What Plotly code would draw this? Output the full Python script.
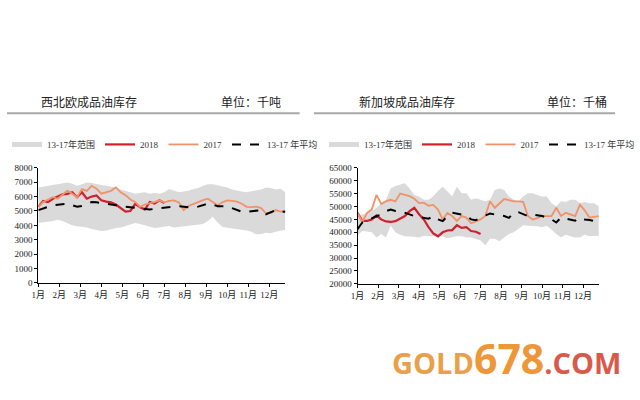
import plotly.graph_objects as go

months = ["1月", "2月", "3月", "4月", "5月", "6月", "7月", "8月", "9月", "10月", "11月", "12月"]
weeks = list(range(52))
month_pos = [i * 52 / 12 for i in range(12)]

# 西北欧 (千吨)
nwe_hi = [6640, 6700, 6750, 6800, 6860, 6900, 6975, 6900, 6750, 6850, 6975, 6950, 6860, 6800, 6750, 6700,
          6640, 6500, 6400, 6300, 6190, 6250, 6300, 6190, 6250, 6190, 6300, 6525, 6400, 6300, 6350, 6400,
          6525, 6600, 6750, 6860, 6860, 6800, 6700, 6640, 6500, 6410, 6350, 6300, 6350, 6410, 6500, 6640,
          6600, 6500, 6550, 6300]
nwe_lo = [4160, 4200, 4250, 4300, 4390, 4300, 4150, 4000, 3940, 3900, 3850, 3750, 3650, 3600, 3650, 3750,
          3820, 3850, 3950, 4050, 4160, 4100, 4000, 3900, 3820, 3850, 3900, 3950, 3850, 3900, 3940, 3950,
          4050, 4050, 4100, 4300, 4600, 4200, 3900, 3825, 3800, 3750, 3700, 3650, 3550, 3375, 3400, 3490,
          3450, 3550, 3650, 3700]
nwe_2018 = [5290, 5700, 5620, 5850, 6000, 6150, 6190, 6300, 5960, 6300, 5850, 6000, 6075, 5740, 5650, 5600,
            5450, 5200, 4950, 5000, 5500, 5250, 5100, 5625, 5510, 5740, 5560]
nwe_2017 = [5290, 5620, 5800, 5960, 5850, 6100, 6410, 6200, 5960, 6525, 6400, 6750, 6550, 6200, 6300, 6400,
            6640, 6300, 6100, 5800, 5625, 5290, 5450, 5510, 5620, 5740, 5600, 5700, 5740, 5600, 5060, 5350,
            5500, 5625, 5750, 5850, 5600, 5400, 5600, 5740, 5700, 5650, 5500, 5290, 5270, 5300, 5200, 4840,
            4850, 5060, 4950, 5000]
nwe_avg = [5060, 5200, 5290, 5400, 5445, 5480, 5510, 5400, 5290, 5350, 5500, 5625, 5600, 5560, 5500, 5450,
           5400, 5330, 5290, 5220, 5175, 5150, 5100, 5100, 5150, 5175, 5200, 5250, 5300, 5330, 5300, 5250,
           5220, 5300, 5400, 5510, 5450, 5330, 5330, 5330, 5200, 5100, 4950, 4950, 5000, 5060, 5060, 4770,
           4900, 5060, 4950, 4950]

# 新加坡 (千桶)
sg_hi = [46300, 47000, 47600, 48200, 49500, 51300, 52600, 57000, 58000, 58500, 59000, 57000, 54500, 53900,
         52600, 52600, 54000, 56000, 57700, 55800, 54000, 57700, 55100, 55100, 52600, 53200, 52600, 52000,
         52600, 56400, 57000, 56400, 53900, 52600, 52000, 53900, 55100, 55100, 54500, 53900, 53900, 51300,
         50100, 52000, 51700, 52600, 52600, 51300, 51700, 51300, 51300, 50100]
sg_lo = [38700, 40600, 40300, 40000, 38000, 39300, 38000, 42500, 40000, 39000, 38500, 38500, 38300, 38000,
         38700, 38500, 38500, 38500, 38500, 37700, 38000, 38500, 38500, 38000, 38000, 37500, 36800, 35000,
         37500, 37500, 36500, 38000, 39300, 40000, 41200, 42750, 42500, 42500, 42300, 42000, 42500, 41000,
         39300, 38000, 39000, 38500, 38000, 38000, 39000, 38500, 38700, 38700]
sg_2018 = [47560, 44400, 44400, 45000, 46500, 45000, 44200, 44000, 44300, 45300, 46300, 48200, 49500, 47000,
           45000, 42000, 39600, 38450, 40000, 40700, 40850, 42750, 41700, 42000, 40500, 40200, 39300]
sg_2017 = [47500, 44000, 47500, 48800, 54500, 51000, 52000, 52600, 52000, 55000, 54500, 54000, 53000, 51300,
           51500, 50300, 50600, 48800, 45000, 47500, 46300, 44400, 46300, 45700, 43500, 44400, 45000, 46300,
           52000, 49500, 51300, 52900, 52500, 52000, 52000, 51800, 46300, 45000, 45500, 46300, 46300, 46300,
           49500, 46300, 47560, 47000, 46300, 50700, 48500, 45700, 46000, 46300]
sg_avg = [41200, 43800, 44400, 45300, 46300, 46800, 48200, 48800, 48300, 48200, 47500, 46900, 46300, 45900,
          45700, 45300, 46300, 45000, 44300, 46300, 47560, 47300, 46900, 46500, 45000, 44700, 45700, 46500,
          47300, 46900, 46500, 46300, 45600, 47560, 47800, 47100, 46300, 46900, 46600, 46300, 45700, 45000,
          43800, 45700, 45300, 45000, 44500, 45700, 45000, 44800, 44400, 44000]

BAND = "#DADADA"
RED = "#D0202E"
ORANGE = "#F0926A"
FONT = "Liberation Serif, Noto Sans CJK SC"

fig = go.Figure()


def add_panel(hi, lo, s18, s17, avg, xa, ya, legend):
    fig.add_trace(go.Scatter(x=weeks, y=hi, mode="lines", line=dict(width=0, color=BAND),
                             showlegend=False, hoverinfo="skip", xaxis=xa, yaxis=ya))
    fig.add_trace(go.Scatter(x=weeks, y=lo, mode="lines", line=dict(width=0, color=BAND),
                             fill="tonexty", fillcolor=BAND, showlegend=False, hoverinfo="skip",
                             xaxis=xa, yaxis=ya))
    fig.add_trace(go.Scatter(x=[None], y=[None], mode="lines", line=dict(width=5, color=BAND),
                             name="13-17年范围", legend=legend, xaxis=xa, yaxis=ya))
    fig.add_trace(go.Scatter(x=weeks[:len(s18)], y=s18, mode="lines", line=dict(width=2.2, color=RED),
                             name="2018", legend=legend, xaxis=xa, yaxis=ya))
    fig.add_trace(go.Scatter(x=weeks, y=s17, mode="lines", line=dict(width=1.8, color=ORANGE),
                             name="2017", legend=legend, xaxis=xa, yaxis=ya))
    fig.add_trace(go.Scatter(x=weeks, y=avg, mode="lines", line=dict(width=2, color="black", dash="dash"),
                             name="13-17 年平均", legend=legend, xaxis=xa, yaxis=ya))


add_panel(nwe_hi, nwe_lo, nwe_2018, nwe_2017, nwe_avg, "x", "y", "legend")
add_panel(sg_hi, sg_lo, sg_2018, sg_2017, sg_avg, "x2", "y2", "legend2")

xcommon = dict(range=[0, 51], tickvals=month_pos, ticktext=months, showgrid=False, zeroline=False,
               showline=True, linecolor="black", linewidth=1, ticks="outside", ticklen=3,
               tickcolor="black", tickfont=dict(size=9, family=FONT, color="#222"))
ycommon = dict(showgrid=False, zeroline=False, showline=True, linecolor="black", linewidth=1,
               ticks="outside", ticklen=3, tickcolor="black", tickformat="d",
               tickfont=dict(size=9, family=FONT, color="#222"))

legend_common = dict(orientation="h", font=dict(size=9, family=FONT, color="#333"),
                     bgcolor="rgba(0,0,0,0)", xanchor="left", yanchor="middle",
                     itemwidth=30, tracegroupgap=0, traceorder="normal")

fig.update_layout(
    width=640, height=400, margin=dict(l=0, r=0, t=0, b=0),
    paper_bgcolor="white", plot_bgcolor="white",
    xaxis=dict(domain=[33 / 640, 293 / 640], anchor="y", **xcommon),
    yaxis=dict(domain=[1 - 285 / 400, 1 - 167 / 400], anchor="x", range=[0, 8000], dtick=1000, **ycommon),
    xaxis2=dict(domain=[369 / 640, 623 / 640], anchor="y2", **xcommon),
    yaxis2=dict(domain=[1 - 286 / 400, 1 - 167 / 400], anchor="x2", range=[20000, 65000], dtick=5000,
                **ycommon),
    legend=dict(x=0.0, y=1 - 143 / 400, **legend_common),
    legend2=dict(x=334 / 640, y=1 - 143 / 400, **legend_common),
    showlegend=True,
)

# Titles
ann = [
    dict(text="西北欧成品油库存", x=34 / 640, y=1 - 99 / 400, xanchor="left"),
    dict(text="单位：千吨", x=290 / 640, y=1 - 99 / 400, xanchor="right"),
    dict(text="新加坡成品油库存", x=368 / 640, y=1 - 99 / 400, xanchor="left"),
    dict(text="单位：千桶", x=634 / 640, y=1 - 99 / 400, xanchor="right"),
]
for a in ann:
    fig.add_annotation(xref="paper", yref="paper", showarrow=False, yanchor="middle",
                       font=dict(size=12, family="Noto Sans CJK SC", color="#222"), **a)

# separator lines
fig.add_shape(type="line", xref="paper", yref="paper", x0=0, x1=308 / 640, y0=1 - 111 / 400,
              y1=1 - 111 / 400, line=dict(color="#A8A8A8", width=2))
fig.add_shape(type="line", xref="paper", yref="paper", x0=323 / 640, x1=1, y0=1 - 111 / 400,
              y1=1 - 111 / 400, line=dict(color="#A8A8A8", width=2))

# watermark
wm_text = ("<b><span style='color:#E9A04A'>GOLD</span>"
           "<span style='font-size:41px;color:#EE973A'>678</span>"
           "<span style='color:#D95A4A'>.COM</span></b>")
fig.add_annotation(xref="paper", yref="paper", x=526 / 640, y=1 - 362 / 400, xanchor="center",
                   yanchor="middle", showarrow=False, text=wm_text,
                   font=dict(size=29, family="Open Sans, Noto Sans", color="#E9A04A"))

fig.write_html("out.html")
